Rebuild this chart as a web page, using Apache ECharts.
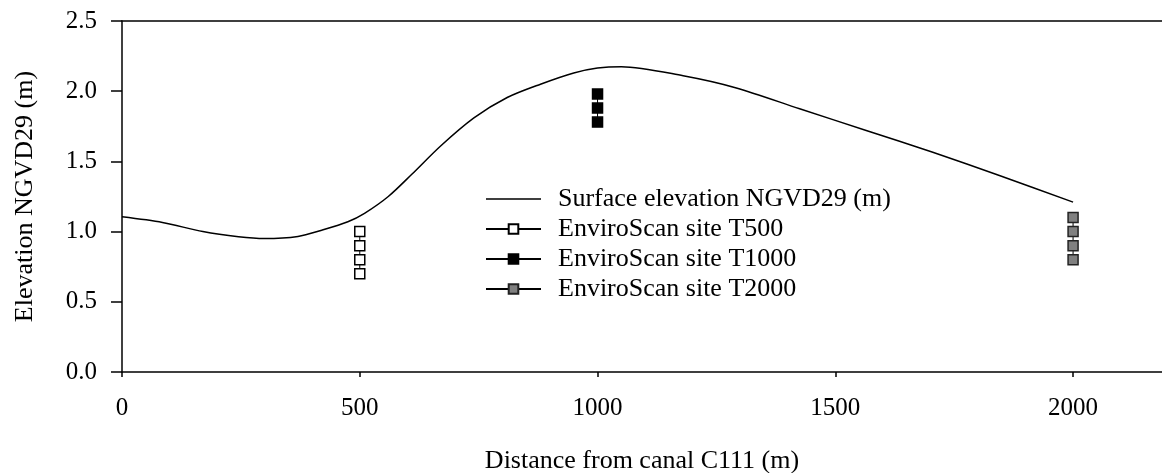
<!DOCTYPE html>
<html>
<head>
<meta charset="utf-8">
<script src="https://cdn.jsdelivr.net/npm/echarts@6/dist/echarts.min.js"></script>
<style>
  html, body { margin: 0; padding: 0; background: #fff; }
  #chart { width: 1162px; height: 473px; }
</style>
</head>
<body>
<div id="chart"></div>
<script>
// Ground surface profile along the transect (distance in m, elevation in m NGVD29)
const surfaceDistance = [0, 85, 170, 245, 300, 370, 420, 475, 510, 560, 610, 670, 740, 810, 880, 950, 1000, 1050, 1180, 1290, 1425, 1565, 1705, 1845, 2000];
const surfaceElevation = [1.105, 1.065, 1.0, 0.963, 0.95, 0.965, 1.01, 1.07, 1.13, 1.25, 1.41, 1.61, 1.81, 1.955, 2.05, 2.13, 2.165, 2.175, 2.11, 2.025, 1.875, 1.72, 1.565, 1.40, 1.21];

// EnviroScan sensor elevations at each site
const t500Distance = 500;
const t500Elevation = [1.0, 0.9, 0.8, 0.7];
const t1000Distance = 1000;
const t1000Elevation = [1.98, 1.88, 1.78];
const t2000Distance = 2000;
const t2000Elevation = [1.1, 1.0, 0.9, 0.8];

// Axis ticks
const xTicks = [0, 500, 1000, 1500, 2000];
const yTicks = [0, 0.5, 1.0, 1.5, 2.0, 2.5];

const seriesNames = [
  'Surface elevation NGVD29 (m)',
  'EnviroScan site T500',
  'EnviroScan site T1000',
  'EnviroScan site T2000'
];

const FONT = '"Liberation Serif", "Times New Roman", serif';
const xMax = 2187;

// plain line legend icon (thin bar with invisible corner specks keeping the 55x12 box)
const LINE_ICON = 'path://M0,0 L0.01,0 L0,0.01 Z M0,5.25 L55,5.25 L55,6.75 L0,6.75 Z M54.99,12 L55,12 L55,11.99 Z';

function pairs(x, ys) { return ys.map(y => [x, y]); }

const chart = echarts.init(document.getElementById('chart'), null, { renderer: 'canvas' });

const siteSeries = (name, x, ys, fill, border) => ({
  name: name,
  type: 'line',
  data: pairs(x, ys),
  symbol: 'rect',
  symbolSize: 10,
  showSymbol: true,
  lineStyle: { color: '#000', width: 1 },
  itemStyle: { color: fill, borderColor: border, borderWidth: 1.5 },
  emphasis: { disabled: true },
  z: 3
});

chart.setOption({
  animation: false,
  backgroundColor: '#fff',
  textStyle: { fontFamily: FONT, color: '#000' },
  grid: { left: 122, top: 21, right: 0, bottom: 101, containLabel: false, outerBoundsMode: 'none' },
  legend: {
    orient: 'vertical',
    left: 480,
    top: 181,
    itemWidth: 55,
    itemHeight: 12,
    itemGap: 4,
    data: [
      { name: seriesNames[0], icon: LINE_ICON, itemStyle: { color: '#000' } },
      seriesNames[1],
      seriesNames[2],
      seriesNames[3]
    ],
    textStyle: { fontFamily: FONT, fontSize: 26, color: '#000', padding: [0, 0, 0, 12] },
    selectedMode: false
  },
  xAxis: [{
    type: 'value',
    min: 0,
    max: xMax,
    interval: 500,
    name: 'Distance from canal C111 (m)',
    nameLocation: 'middle',
    nameGap: 76,
    nameTextStyle: { fontFamily: FONT, fontSize: 26, color: '#000' },
    axisLine: { show: true, onZero: false, lineStyle: { color: '#000', width: 1.5 } },
    axisTick: { show: true, length: 5, customValues: xTicks, lineStyle: { color: '#000', width: 1.5 } },
    axisLabel: {
      customValues: xTicks,
      margin: 24,
      fontFamily: FONT,
      fontSize: 25,
      color: '#000',
      formatter: v => String(v)
    },
    splitLine: { show: false }
  }, {
    type: 'value',
    position: 'top',
    min: 0,
    max: xMax,
    axisLine: { show: true, onZero: false, lineStyle: { color: '#000', width: 1.5 } },
    axisTick: { show: false },
    axisLabel: { show: false },
    splitLine: { show: false }
  }],
  yAxis: {
    type: 'value',
    min: 0,
    max: 2.5,
    interval: 0.5,
    name: 'Elevation NGVD29 (m)',
    nameLocation: 'middle',
    nameGap: 84,
    nameTextStyle: { fontFamily: FONT, fontSize: 26, color: '#000' },
    axisLine: { show: true, onZero: false, lineStyle: { color: '#000', width: 1.5 } },
    axisTick: { show: true, length: 11, customValues: yTicks, lineStyle: { color: '#000', width: 1.5 } },
    axisLabel: {
      customValues: yTicks,
      margin: 25,
      fontFamily: FONT,
      fontSize: 25,
      color: '#000',
      formatter: v => v.toFixed(1)
    },
    splitLine: { show: false }
  },
  series: [
    {
      name: seriesNames[0],
      type: 'line',
      data: surfaceDistance.map((d, i) => [d, surfaceElevation[i]]),
      smooth: 0.3,
      symbol: 'none',
      lineStyle: { color: '#000', width: 1.5 },
      itemStyle: { color: '#000' },
      emphasis: { disabled: true },
      z: 2
    },
    siteSeries(seriesNames[1], t500Distance, t500Elevation, '#ffffff', '#000'),
    siteSeries(seriesNames[2], t1000Distance, t1000Elevation, '#000000', '#000'),
    siteSeries(seriesNames[3], t2000Distance, t2000Elevation, '#808080', '#222')
  ]
});
</script>
</body>
</html>
